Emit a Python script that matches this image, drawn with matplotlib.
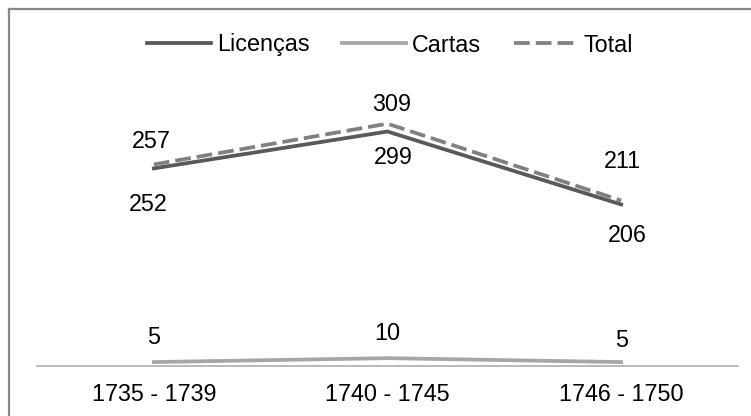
#!/usr/bin/env python3

import matplotlib
matplotlib.use("Agg")
import matplotlib.pyplot as plt
from matplotlib.lines import Line2D

periodos = ["1735 - 1739", "1740 - 1745", "1746 - 1750"]
licencas = [252, 299, 206]
cartas = [5, 10, 5]
total = [257, 309, 211]

# label offsets in pixels (dx, dy) from each point
off_licencas = [(-6, -36), (6, -26), (6, -31)]
off_cartas = [(0, 25), (0, 25), (0, 22)]
off_total = [(-3, 23), (4, 19), (1, 39)]

plt.rcParams['font.family'] = ['Liberation Sans', 'DejaVu Sans']
fs = 16.8

W, H = 751, 416
fig = plt.figure(figsize=(W / 100, H / 100), dpi=100)
ax = fig.add_axes([37 / W, 1 - 366 / H, (738 - 37) / W, (366 - 68) / H])

x = range(len(periodos))
ax.plot(x, licencas, color='#595959', lw=2.7, label='Licenças')
ax.plot(x, cartas, color='#a6a6a6', lw=2.7, label='Cartas')
ax.plot(x, total, color='#808080', lw=2.7, dashes=(4.2, 1.6), label='Total')

for vals, offs in ((licencas, off_licencas), (cartas, off_cartas), (total, off_total)):
	for i, v in enumerate(vals):
		ax.annotate(str(v), (i, v), xytext=offs[i], textcoords='offset pixels',
			ha='center', va='center', fontsize=fs, color='black')

ax.set_xlim(-0.5, 2.5)
ax.set_ylim(0, 380)
ax.set_xticks(list(x))
ax.set_xticklabels(periodos, fontsize=fs)
ax.tick_params(axis='x', length=0, pad=12)
ax.set_yticks([])
for s in ('left', 'right', 'top'):
	ax.spines[s].set_visible(False)
ax.spines['bottom'].set_color('#a6a6a6')
ax.spines['bottom'].set_linewidth(1.1)

fig.legend(loc='center', bbox_to_anchor=(390 / W, 1 - 45 / H), ncol=3, frameon=False,
	fontsize=fs, handlelength=2.75, handletextpad=0.25, columnspacing=1.4)

# outer border (left and top only visible)
fig.add_artist(Line2D([9 / W, 9 / W], [0, 1 - 9 / H], transform=fig.transFigure, color='#878787', lw=1.6))
fig.add_artist(Line2D([9 / W, 1], [1 - 9 / H, 1 - 9 / H], transform=fig.transFigure, color='#878787', lw=1.6))

fig.savefig("out.png", dpi=100)
